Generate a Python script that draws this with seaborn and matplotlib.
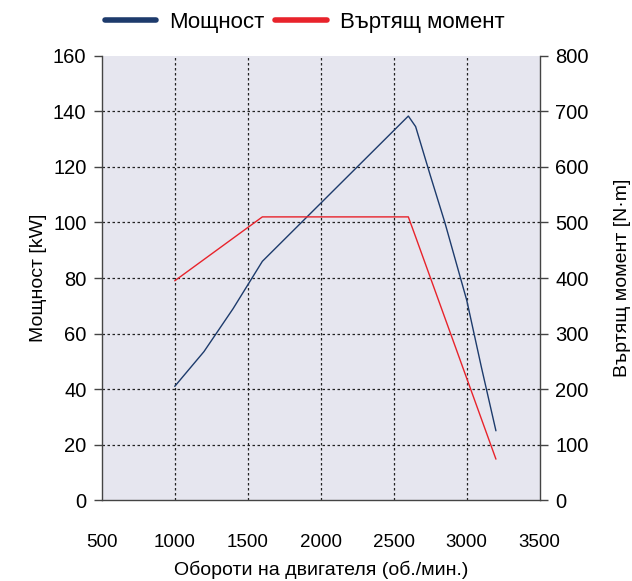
import numpy as np
import pandas as pd
import seaborn as sns
import matplotlib.pyplot as plt
from matplotlib.lines import Line2D

# power curve (kW) vs engine speed
power_rpm = [1000, 1200, 1400, 1600, 2600, 2650, 2750, 2850, 3000, 3100, 3200]
power_kw = [41, 53.5, 69, 86, 138.3, 134.5, 117, 100, 72, 48, 25]

# torque curve (N·m) vs engine speed
torque_rpm = [1000, 1600, 2600, 2650, 3200]
torque_nm = [395, 510, 510, 474, 74]

x_ticks = [500, 1000, 1500, 2000, 2500, 3000, 3500]
power_ticks = [0, 20, 40, 60, 80, 100, 120, 140, 160]
torque_ticks = [0, 100, 200, 300, 400, 500, 600, 700, 800]

blue = "#1d3b6c"
red = "#e8232b"

sns.set_theme(style="white")
plt.rcParams['font.family'] = ['Liberation Sans', 'DejaVu Sans']
plt.rcParams['text.color'] = 'black'
plt.rcParams['xtick.color'] = 'black'
plt.rcParams['ytick.color'] = 'black'
plt.rcParams['axes.labelcolor'] = 'black'

df_p = pd.DataFrame({"rpm": power_rpm, "kw": power_kw})
df_t = pd.DataFrame({"rpm": torque_rpm, "nm": torque_nm})

fig = plt.figure(figsize=(6.32, 5.81), dpi=100)
ax = fig.add_axes([0.161, 0.139, 0.693, 0.765])
ax.set_facecolor("#e6e6ef")
ax2 = ax.twinx()

sns.lineplot(data=df_p, x="rpm", y="kw", ax=ax, color=blue, linewidth=1.0, sort=False)
sns.lineplot(data=df_t, x="rpm", y="nm", ax=ax2, color=red, linewidth=1.0, sort=False)

ax.set_xlim(500, 3500)
ax.set_ylim(0, 160)
ax2.set_ylim(0, 800)
ax.set_xticks(x_ticks)
ax.set_yticks(power_ticks)
ax2.set_yticks(torque_ticks)

# dotted grid
ax.grid(True, color="#222222", linestyle=(0, (2, 2)), linewidth=0.9)
ax.set_axisbelow(True)
for i, g in enumerate(ax.get_xgridlines()):
    if x_ticks[i] in (500, 3500):
        g.set_visible(False)
for i, g in enumerate(ax.get_ygridlines()):
    if power_ticks[i] in (0, 160):
        g.set_visible(False)

for a in (ax, ax2):
    for s in a.spines.values():
        s.set_visible(False)
ax.spines["left"].set_visible(True)
ax.spines["bottom"].set_visible(True)
ax2.spines["right"].set_visible(True)
for s in (ax.spines["left"], ax.spines["bottom"], ax2.spines["right"]):
    s.set_color("#444444")
    s.set_linewidth(1.0)

ax.tick_params(axis="y", direction="out", length=6, width=1, color="#444444",
               labelsize=14.5, pad=5, left=True)
ax.tick_params(axis="x", length=0, labelsize=13.5, pad=24)
ax2.tick_params(axis="y", direction="out", length=6, width=1, color="#444444",
                labelsize=14.5, pad=5, right=True)

ax.set_xlabel("Обороти на двигателя (об./мин.)", fontsize=14, labelpad=7)
ax.set_ylabel("Мощност [kW]", fontsize=14)
ax2.set_ylabel("Въртящ момент [N·m]", fontsize=14)
ax.yaxis.set_label_coords(-0.125, 0.5)
ax2.yaxis.set_label_coords(1.17, 0.5)

handles = [Line2D([], [], color=blue, linewidth=4),
           Line2D([], [], color=red, linewidth=4)]
fig.legend(handles, ["Мощност", "Въртящ момент"], loc="center",
           bbox_to_anchor=(0.482, 0.961), ncol=2, frameon=False, fontsize=16,
           handlelength=2.3, columnspacing=0.5, handletextpad=0.6)

fig.savefig("out.png", dpi=100)
